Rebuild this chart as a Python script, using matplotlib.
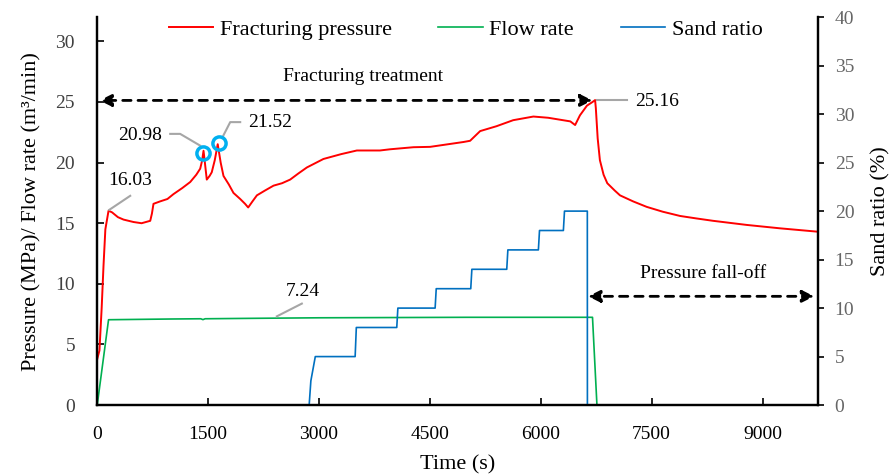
import matplotlib
matplotlib.use("Agg")
import matplotlib.pyplot as plt

plt.rcParams['font.family'] = ['Liberation Serif', 'DejaVu Serif']

# Fracturing pressure (MPa) vs time (s)
time_p = [0, 30, 60, 85, 110, 153, 200, 280, 356, 491, 600, 717, 740, 761, 850, 950,
          1031, 1150, 1258, 1340, 1393, 1420, 1438, 1460, 1482, 1520, 1549, 1590, 1630,
          1670, 1708, 1780, 1843, 1934, 2000, 2042, 2100, 2160, 2270, 2385, 2500, 2610,
          2720, 2836, 3060, 3300, 3512, 3824, 3962, 4278, 4503, 4729, 4954, 5044, 5180,
          5400, 5627, 5900, 6100, 6300, 6400, 6465, 6530, 6625, 6700, 6735, 6745, 6770,
          6800, 6850, 6900, 7000, 7072, 7250, 7433, 7650, 7884, 8100, 8330, 8786, 9236,
          9750]
pressure = [3.8, 4.5, 8.0, 11.5, 14.5, 16.03, 15.9, 15.5, 15.3, 15.1, 15.0, 15.2, 15.8,
            16.6, 16.8, 17.0, 17.4, 17.9, 18.4, 19.0, 19.5, 20.2, 20.98, 19.8, 18.6, 18.9,
            19.2, 20.2, 21.52, 20.0, 18.9, 18.2, 17.5, 17.0, 16.6, 16.3, 16.8, 17.3, 17.7,
            18.1, 18.3, 18.6, 19.1, 19.6, 20.3, 20.7, 21.0, 21.0, 21.1, 21.27, 21.3, 21.5,
            21.7, 21.8, 22.6, 23.0, 23.5, 23.8, 23.7, 23.5, 23.4, 23.1, 23.9, 24.7, 25.0,
            25.16, 24.5, 22.0, 20.2, 19.0, 18.3, 17.7, 17.3, 16.8, 16.35, 15.95, 15.6,
            15.4, 15.2, 14.86, 14.58, 14.3]

# Flow rate (m3/min)
time_q = [0, 153, 1000, 1400, 1430, 1460, 2000, 3000, 4000, 5000, 6000, 6700, 6760, 9750]
flow = [0, 7.04, 7.1, 7.12, 7.05, 7.12, 7.15, 7.2, 7.22, 7.24, 7.24, 7.24, 0, 0]

# Sand ratio (%)
time_s = [0, 2867, 2890, 2950, 3489, 3505, 4052, 4067, 4571, 4586, 5053, 5068, 5540,
          5555, 5968, 5983, 6306, 6321, 6630, 6631, 9750]
sand = [0, 0, 2.5, 5, 5, 8, 8, 10, 10, 12, 12, 14, 14, 16, 16, 18, 18, 20, 20, 0, 0]

fig = plt.figure(figsize=(8.92, 4.76), dpi=100)
ax = fig.add_axes([0.109, 0.149, 0.808, 0.815])
ax2 = ax.twinx()

l1, = ax.plot(time_p, pressure, color='#FF0000', lw=1.4, label='Fracturing pressure')
l2, = ax.plot(time_q, flow, color='#00B050', lw=1.2, label='Flow rate')
l3, = ax2.plot(time_s, sand, color='#0070C0', lw=1.2, label='Sand ratio')

ax.set_xlim(0, 9750)
ax.set_ylim(0, 32)
ax2.set_ylim(0, 40)
ax.set_xticks(range(0, 9001, 1500))
ax.set_yticks(range(0, 31, 5))
ax2.set_yticks(range(0, 41, 5))

ax.tick_params(axis='x', direction='in', length=5, width=1.2, labelsize=14, pad=15)
ax.tick_params(axis='y', direction='in', length=5, width=1.2, labelsize=14,
               labelcolor='#404040', pad=16)
ax2.tick_params(axis='y', direction='out', length=4, width=1.2, labelsize=14,
                labelcolor='#666666', pad=8)

for a in (ax, ax2):
    a.spines['top'].set_visible(False)
    for s in ('left', 'right', 'bottom'):
        a.spines[s].set_linewidth(1.6)

ax.set_xlabel('Time (s)', fontsize=16, labelpad=9)
ax.set_ylabel('Pressure (MPa)/ Flow rate (m³/min)', fontsize=16, labelpad=10)
ax2.set_ylabel('Sand ratio (%)', fontsize=16, labelpad=12)

# double arrows
arrow_style = dict(arrowstyle='<|-|>', color='black', lw=2, linestyle=(0, (3, 2.5)),
                   mutation_scale=18, shrinkA=0, shrinkB=0)
ax.annotate('', xy=(30, 25.13), xytext=(6700, 25.13), arrowprops=arrow_style)
ax.text(3600, 27.1, 'Fracturing treatment', fontsize=14, ha='center', va='center')
ax.annotate('', xy=(6640, 8.97), xytext=(9700, 8.97), arrowprops=arrow_style)
ax.text(8195, 10.85, 'Pressure fall-off', fontsize=14, ha='center', va='center')

# value labels with leader lines
grey = '#A6A6A6'
ax.plot([162, 446], [16.1, 17.26], color=grey, lw=1.5)
ax.text(446, 18.5, '16.03', fontsize=14, ha='center', va='center')

ax.plot([987, 1122, 1393], [22.37, 22.37, 21.4], color=grey, lw=1.5)
ax.text(581, 22.23, '20.98', fontsize=14, ha='center', va='center')

ax.plot([1690, 1799, 1934], [22.04, 23.34, 23.34], color=grey, lw=1.5)
ax.text(2339, 23.28, '21.52', fontsize=14, ha='center', va='center')

ax.plot([6761, 7167], [25.19, 25.19], color=grey, lw=1.5)
ax.text(7275, 25.05, '25.16', fontsize=14, ha='left', va='center')

ax.plot([2430, 2768], [7.32, 8.37], color=grey, lw=1.5)
ax.text(2786, 9.39, '7.24', fontsize=14, ha='center', va='center')

ax.plot([1437, 1654], [20.8, 21.62], 'o', mfc='none', mec='#00B0F0', ms=9.5, mew=2.5)

fig.legend(handles=[l1, l2, l3], loc='center', bbox_to_anchor=(0.522, 0.937), ncol=3,
           frameon=False, fontsize=16, handlelength=2.0, handletextpad=0.3,
           columnspacing=2.1)

fig.savefig('out.png', dpi=100)
